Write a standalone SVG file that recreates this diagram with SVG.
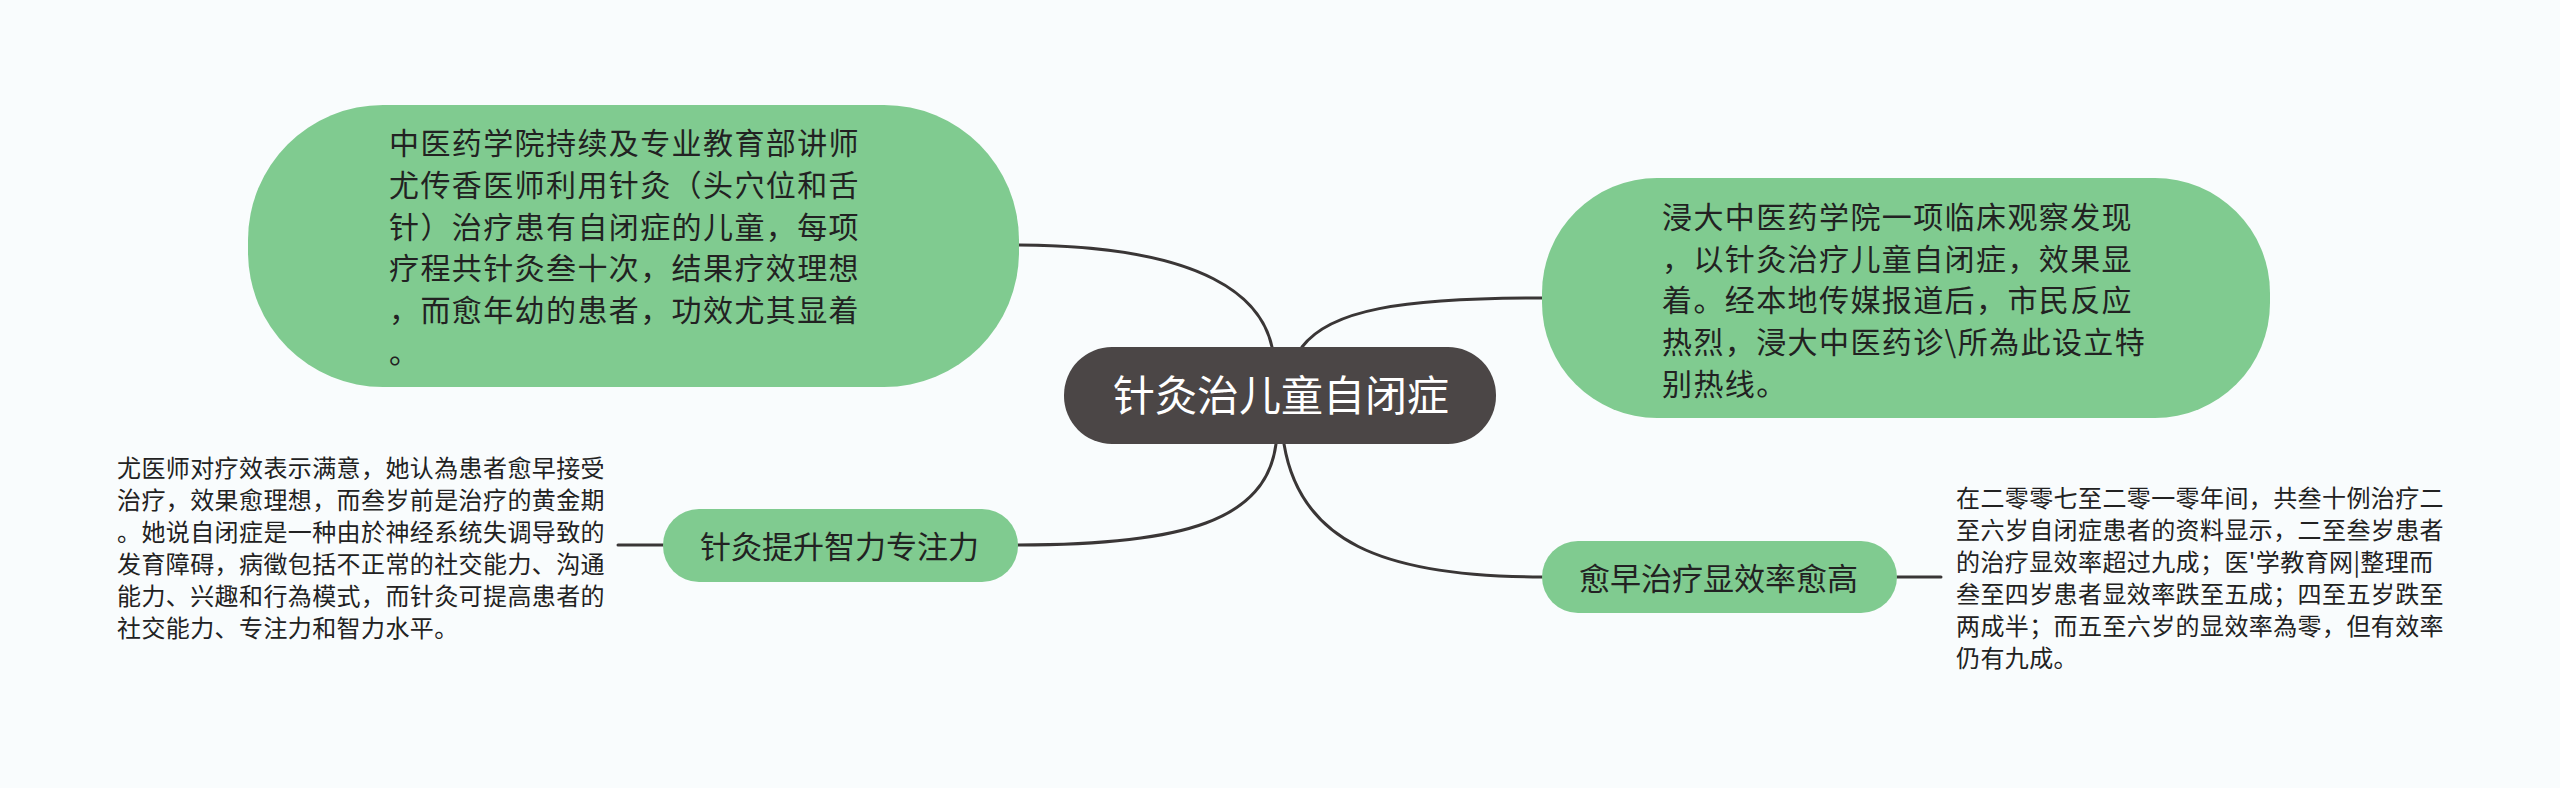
<svg xmlns="http://www.w3.org/2000/svg" width="2560" height="788" viewBox="0 0 2560 788">
<style>
.bg{fill:#f9fcfd}
.topic{fill:#80cb90}
.root{fill:#4b4646}
.edge{fill:none;stroke:#3a3636;stroke-width:3;stroke-linecap:round}
.t{font-family:"Noto Sans CJK SC","Noto Sans",sans-serif;fill:#222}
.big{font-size:30px;letter-spacing:1.4px}
.br{font-size:31px}
.leaf{font-size:24px;letter-spacing:0.4px}
.rt{font-size:42px;fill:#ffffff}
</style>
<rect class="bg" x="0" y="0" width="2560" height="788"/>
<g id="connectors">
<path class="edge" d="M1272 347 C1262 300 1210 246 1019 245"/>
<path class="edge" d="M1302 347 C1330 310 1400 298 1542 298"/>
<path class="edge" d="M1276 444 C1266 520 1185 545 1018 545"/>
<path class="edge" d="M1284 444 C1300 540 1380 577 1542 577"/>
<path class="edge" d="M618 545 L663 545"/>
<path class="edge" d="M1897 577 L1941 577"/>
</g>
<g id="root">
<rect class="root" x="1064" y="347" width="432" height="97" rx="48"/>
<text class="t rt" x="1113" y="411">针灸治儿童自闭症</text>
</g>
<g id="node-top-left">
<rect class="topic" x="248" y="105" width="771" height="282" rx="135"/>
<text class="t big">
<tspan x="389" y="154">中医药学院持续及专业教育部讲师</tspan>
<tspan x="389" y="196">尤传香医师利用针灸（头穴位和舌</tspan>
<tspan x="389" y="238">针）治疗患有自闭症的儿童，每项</tspan>
<tspan x="389" y="279">疗程共针灸叁十次，结果疗效理想</tspan>
<tspan x="389" y="321">，而愈年幼的患者，功效尤其显着</tspan>
<tspan x="389" y="363">。</tspan>
</text>
</g>
<g id="node-top-right">
<rect class="topic" x="1542" y="178" width="728" height="240" rx="115"/>
<text class="t big">
<tspan x="1662" y="228">浸大中医药学院一项临床观察发现</tspan>
<tspan x="1662" y="270">，以针灸治疗儿童自闭症，效果显</tspan>
<tspan x="1662" y="311">着。经本地传媒报道后，市民反应</tspan>
<tspan x="1662" y="353">热烈，浸大中医药诊\所為此设立特</tspan>
<tspan x="1662" y="395">别热线。</tspan>
</text>
</g>
<g id="node-left">
<rect class="topic" x="663" y="509" width="355" height="73" rx="36"/>
<text class="t br" x="700" y="558">针灸提升智力专注力</text>
</g>
<g id="node-right">
<rect class="topic" x="1542" y="541" width="355" height="72" rx="36"/>
<text class="t br" x="1579" y="590">愈早治疗显效率愈高</text>
</g>
<g id="leaf-left">
<text class="t leaf">
<tspan x="117" y="477">尤医师对疗效表示满意，她认為患者愈早接受</tspan>
<tspan x="117" y="509">治疗，效果愈理想，而叁岁前是治疗的黄金期</tspan>
<tspan x="117" y="541">。她说自闭症是一种由於神经系统失调导致的</tspan>
<tspan x="117" y="573">发育障碍，病徵包括不正常的社交能力、沟通</tspan>
<tspan x="117" y="605">能力、兴趣和行為模式，而针灸可提高患者的</tspan>
<tspan x="117" y="637">社交能力、专注力和智力水平。</tspan>
</text>
</g>
<g id="leaf-right">
<text class="t leaf">
<tspan x="1956" y="507">在二零零七至二零一零年间，共叁十例治疗二</tspan>
<tspan x="1956" y="539">至六岁自闭症患者的资料显示，二至叁岁患者</tspan>
<tspan x="1956" y="571">的治疗显效率超过九成；医'学教育网|整理而</tspan>
<tspan x="1956" y="603">叁至四岁患者显效率跌至五成；四至五岁跌至</tspan>
<tspan x="1956" y="635">两成半；而五至六岁的显效率為零，但有效率</tspan>
<tspan x="1956" y="667">仍有九成。</tspan>
</text>
</g>
</svg>
